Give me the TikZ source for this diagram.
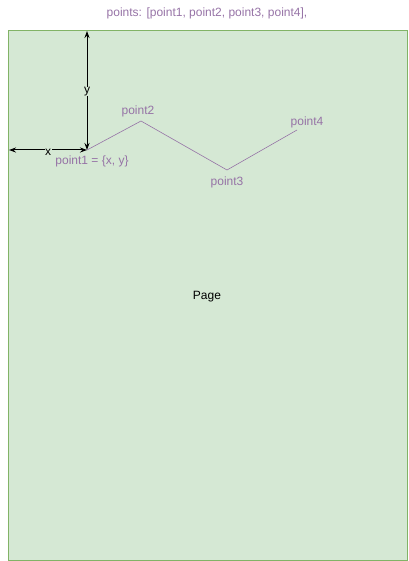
\documentclass[tikz,border=0pt]{standalone}
\usepackage{fontspec}
\setmainfont{Liberation Sans}
\usepackage{xcolor}
\definecolor{pagegreen}{HTML}{D5E8D4}
\definecolor{pageborder}{HTML}{82B366}
\definecolor{pointpurple}{HTML}{9673A6}
\usetikzlibrary{arrows.meta,positioning,calc}

\begin{document}
\begin{tikzpicture}[
    x=1pt, y=-1pt,
    page/.style={rectangle, draw=pageborder, fill=pagegreen, line width=0.8pt},
    plabel/.style={font=\fontsize{12}{14}\selectfont, text=pointpurple, inner sep=1pt},
    axislabel/.style={font=\fontsize{12}{14}\selectfont, fill=pagegreen, inner sep=0.5pt},
    arrow/.style={{Stealth[length=7pt,width=5pt]}-{Stealth[length=7pt,width=5pt]}, line width=1pt, black},
    polyline/.style={draw=pointpurple, line width=0.6pt}
]
\useasboundingbox (0,0) rectangle (408,561);

% Page
\draw[page] (8,30) rectangle (407,560);
\node[font=\fontsize{12}{14}\selectfont] (pagelbl) at (207,297) {Page};

% Title
\node[plabel] (title) at (207,13) {points: [point1, point2, point3, point4],};

% Points
\coordinate (p1) at (87,150);
\coordinate (p2) at (141,121);
\coordinate (p3) at (227,170);
\coordinate (p4) at (297,130);
\coordinate (ytop) at (87,31);
\coordinate (xleft) at (9,150);

% Offsets from the page edges
\draw[arrow] (ytop) -- (p1) node[axislabel, midway, yshift=-1pt] (ylbl) {y};
\draw[arrow] (xleft) -- (p1) node[axislabel, midway, yshift=-2pt] (xlbl) {x};

% Polyline
\draw[polyline] (p1) -- (p2) -- (p3) -- (p4);

% Point labels
\node[plabel] (p1lbl) at (92,161) {point1 = \{x, y\}};
\node[plabel] (p2lbl) at (138,111) {point2};
\node[plabel] (p3lbl) at (227,182) {point3};
\node[plabel] (p4lbl) at (307,122) {point4};
\end{tikzpicture}
\end{document}
